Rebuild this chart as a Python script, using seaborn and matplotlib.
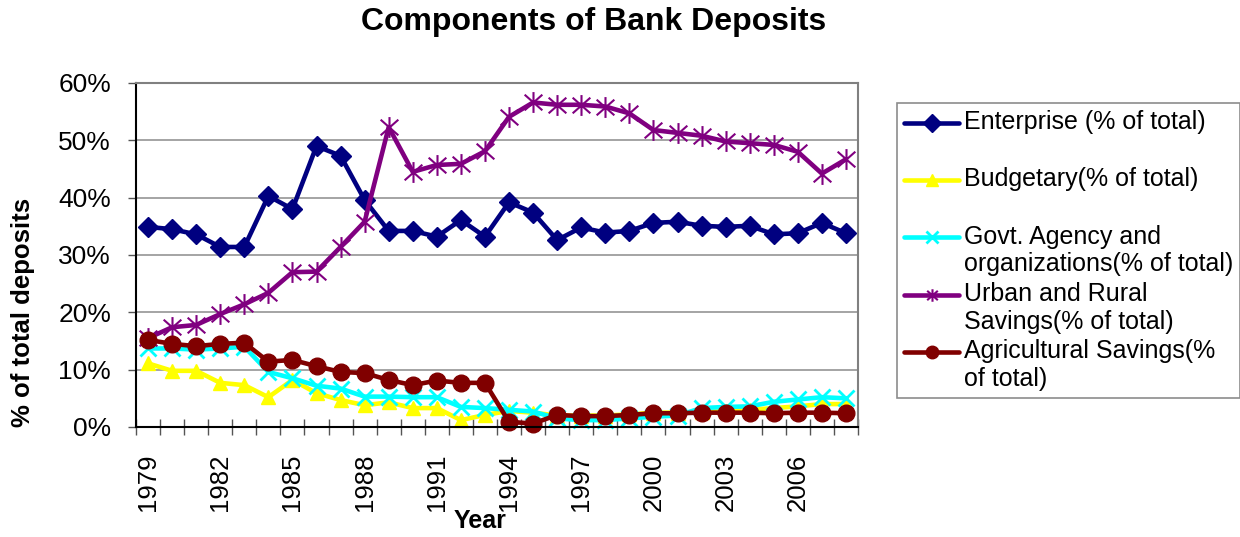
import numpy as np
import pandas as pd
import matplotlib
matplotlib.use("Agg")
import matplotlib.pyplot as plt
import seaborn as sns
from matplotlib.legend_handler import HandlerLine2D
from matplotlib.path import Path
from matplotlib.ticker import PercentFormatter

# ---- data -------------------------------------------------------------
years = list(range(1979, 2009))

enterprise = [34.9, 34.5, 33.6, 31.4, 31.4, 40.3, 38.0, 49.0, 47.3, 39.6,
              34.2, 34.2, 33.2, 36.1, 33.2, 39.2, 37.4, 32.6, 34.8, 33.9,
              34.2, 35.6, 35.8, 35.1, 34.9, 35.1, 33.6, 33.8, 35.6, 33.8]
budgetary = [11.1, 9.8, 9.8, 7.7, 7.3, 5.2, 8.2, 5.9, 4.7, 3.8,
             4.3, 3.3, 3.3, 1.2, 2.1, 2.8, 2.5, 2.0, 2.0, 2.0,
             2.2, 2.5, 2.5, 2.6, 2.8, 3.0, 3.3, 3.6, 4.0, 4.0]
govt_agency = [13.7, 13.7, 13.5, 13.7, 14.0, 9.6, 8.5, 7.2, 6.7, 5.3,
               5.3, 5.2, 5.2, 3.5, 3.3, 3.0, 2.7, 1.5, 1.2, 1.2,
               1.5, 1.8, 2.0, 3.3, 3.5, 3.6, 4.4, 4.8, 5.2, 5.0]
urban_rural = [15.5, 17.4, 17.8, 19.7, 21.4, 23.4, 27.0, 27.1, 31.4, 35.8,
               52.3, 44.5, 45.7, 45.9, 48.1, 54.1, 56.6, 56.2, 56.2, 55.9,
               54.7, 51.8, 51.3, 50.8, 49.8, 49.5, 49.2, 48.0, 44.2, 46.7]
agricultural = [15.2, 14.5, 14.1, 14.5, 14.7, 11.4, 11.7, 10.6, 9.6, 9.4,
                8.2, 7.3, 8.1, 7.7, 7.7, 0.9, 0.6, 2.1, 1.9, 1.9,
                2.1, 2.4, 2.4, 2.5, 2.5, 2.5, 2.4, 2.5, 2.5, 2.4]

series_names = ["Enterprise (% of total)",
                "Budgetary(% of total)",
                "Govt. Agency and\norganizations(% of total)",
                "Urban and Rural\nSavings(% of total)",
                "Agricultural Savings(%\nof total)"]
series_values = [enterprise, budgetary, govt_agency, urban_rural, agricultural]

# ---- styling ------------------------------------------------------------
# asterisk: a vertical bar crossed by an "x"
star_path = Path([(0, -1), (0, 1), (-0.85, -0.75), (0.85, 0.75),
                  (-0.85, 0.75), (0.85, -0.75)],
                 [Path.MOVETO, Path.LINETO, Path.MOVETO, Path.LINETO,
                  Path.MOVETO, Path.LINETO])

colors = ["#000080", "#FFFF00", "#00FFFF", "#800080", "#800000"]
markers = ["D", "^", "x", star_path, "o"]
msizes = [10, 10, 11, 15, 12]
medgew = [1, 1, 2.0, 1.5, 1]

sns.set_style("white")
plt.rcParams["font.family"] = ["Liberation Sans", "DejaVu Sans"]
plt.rcParams["text.color"] = "black"
plt.rcParams["axes.labelcolor"] = "black"
plt.rcParams["xtick.color"] = "black"
plt.rcParams["ytick.color"] = "black"

fig = plt.figure(figsize=(12.4, 5.37), dpi=100)
ax = fig.add_axes([136 / 1240, 1 - 427 / 537, 722 / 1240, 344 / 537])

frames = []
for name, vals in zip(series_names, series_values):
    frames.append(pd.DataFrame({"pos": np.arange(len(years)),
                                "value": vals,
                                "series": name}))
df = pd.concat(frames, ignore_index=True)

for name, col, mk, ms, mew in zip(series_names, colors, markers, msizes, medgew):
    sub = df[df["series"] == name]
    sns.lineplot(data=sub, x="pos", y="value", ax=ax, color=col, marker=mk,
                 markersize=ms, markeredgecolor=col, markerfacecolor=col,
                 markeredgewidth=mew, linewidth=3.3, label=name,
                 clip_on=False, legend=False)

# ---- axes ---------------------------------------------------------------
ax.set_xlim(-0.5, len(years) - 0.5)
ax.set_ylim(0, 60)
ax.set_yticks(np.arange(0, 61, 10))
ax.yaxis.set_major_formatter(PercentFormatter(xmax=100, decimals=0))
ax.grid(False)
ax.yaxis.grid(True, color="#8c8c8c", linewidth=1.1)
ax.set_axisbelow(True)

ax.set_xticks(np.arange(-0.5, len(years), 1))
ax.set_xticklabels([])
label_pos = np.arange(0, len(years), 3)
ax.set_xticks(label_pos, minor=True)
ax.set_xticklabels([str(years[i]) for i in label_pos], minor=True)
ax.tick_params(axis="x", which="major", direction="inout", length=11,
               width=1, color="#555555", bottom=True)
ax.tick_params(axis="x", which="minor", length=0, pad=19, labelsize=18.5,
               labelrotation=90, bottom=True, labelcolor="black")
ax.tick_params(axis="y", which="major", direction="out", length=6, width=1,
               color="#555555", pad=12, labelsize=19, left=True,
               labelcolor="black")

for side in ["left", "bottom"]:
    ax.spines[side].set_color("black")
    ax.spines[side].set_linewidth(1.5)
for side in ["top", "right"]:
    ax.spines[side].set_color("#808080")
    ax.spines[side].set_linewidth(1.5)

ax.set_xlabel("")
ax.set_ylabel("")

fig.text(594 / 1240, 1 - 22 / 537, "Components of Bank Deposits",
         ha="center", va="center", fontsize=23, fontweight="bold",
         color="black")
fig.text(23 / 1240, 1 - 312 / 537, "% of total deposits", rotation=90,
         ha="center", va="center", fontsize=18.5, fontweight="bold",
         color="black")
fig.text(480 / 1240, 1 - 521 / 537, "Year", ha="center", va="center",
         fontsize=18, fontweight="bold", color="black")


# ---- legend -------------------------------------------------------------
class FirstLineHandler(HandlerLine2D):
    """Line handle raised so it sits beside the first line of its label."""

    def __init__(self, shift, **kw):
        super().__init__(**kw)
        self.shift = shift

    def create_artists(self, legend, orig_handle, xdescent, ydescent,
                       width, height, fontsize, trans):
        artists = super().create_artists(legend, orig_handle, xdescent,
                                         ydescent, width, height, fontsize,
                                         trans)
        for a in artists:
            a.set_ydata(np.asarray(a.get_ydata()) + self.shift)
        return artists


handles, labels = ax.get_legend_handles_labels()
legend_labels = [lab if "\n" in lab else lab + "\n " for lab in labels]
hmap = {h: FirstLineHandler(shift=10.0, numpoints=1) for h in handles}
leg = fig.legend(handles, legend_labels, loc="upper left",
                 bbox_to_anchor=(897 / 1240, 1 - 103 / 537),
                 frameon=True, fancybox=False, shadow=False, fontsize=18,
                 handlelength=2.2, handletextpad=0.2, labelspacing=0.22,
                 borderpad=0.28, borderaxespad=0, handler_map=hmap,
                 labelcolor="black")
leg.get_frame().set_edgecolor("#707070")
leg.get_frame().set_linewidth(1.2)
for h in leg.legend_handles:
    h.set_markersize(9)

fig.savefig("out.png", dpi=100)
